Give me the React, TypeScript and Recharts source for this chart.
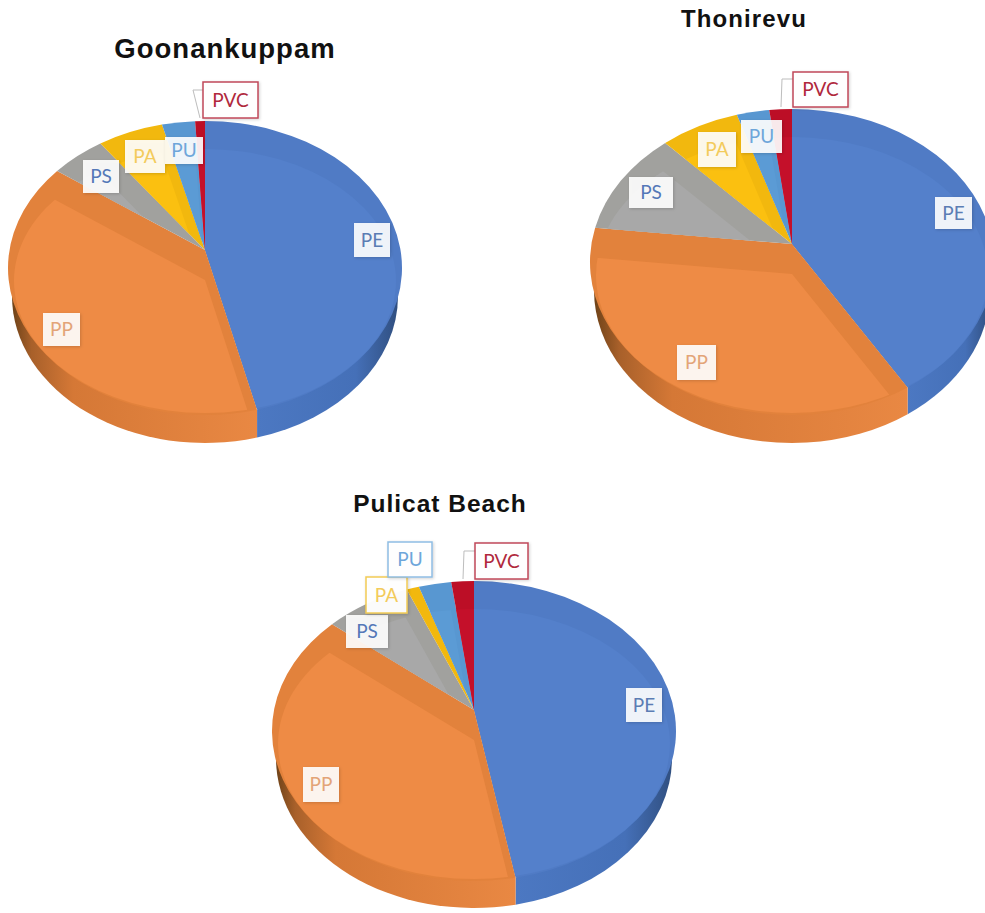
import { Pie, PieChart } from "recharts";

const polymers = ["PE", "PP", "PS", "PA", "PU", "PVC"];

const goonankuppamShares = [45.7, 40.7, 4.6, 5.4, 2.7, 0.8];
const thonirevuShares = [40.3, 38.3, 10.6, 6.4, 2.6, 1.8];
const pulicatShares = [46.7, 40.9, 7.0, 1.0, 2.6, 1.8];

const topColors = ["#5480CB", "#EE8B45", "#A8A8A8", "#FBC010", "#5B9BD5", "#C4102A"];
const bevelColors = ["#507BC5", "#E2823C", "#A1A19E", "#F2B80E", "#5897D1", "#BC0E26"];
const labelTextColors = ["#5B7DB4", "#E3A478", "#5478B8", "#F3CB5C", "#6EA6DA", "#B0283C"];

type Box = { x: number; y: number; w: number; h: number; border?: string };

type Site = {
  title: string;
  titleX: number;
  titleY: number;
  titleSize: number;
  titleSpacing: number;
  shares: number[];
  apexX: number;
  apexY: number;
  rx: number;
  ry: number;
  rimY: number; // centre of the rim ellipse, lower than the apex because of the perspective
  depth: number;
  boxes: Box[];
  leader: string;
};

const sites: Site[] = [
  {
    title: "Goonankuppam",
    titleX: 225,
    titleY: 58,
    titleSize: 27.5,
    titleSpacing: 1,
    shares: goonankuppamShares,
    apexX: 205,
    apexY: 250,
    rx: 197,
    ry: 147,
    rimY: 268,
    depth: 28,
    boxes: [
      { x: 354, y: 223, w: 36, h: 34 },
      { x: 43, y: 313, w: 37, h: 33 },
      { x: 83, y: 160, w: 36, h: 33 },
      { x: 125, y: 140, w: 40, h: 33 },
      { x: 165, y: 137, w: 38, h: 27 },
      { x: 203, y: 82, w: 55, h: 36, border: "#C0485A" },
    ],
    leader: "203,90 193,90 200,118",
  },
  {
    title: "Thonirevu",
    titleX: 744,
    titleY: 27,
    titleSize: 24,
    titleSpacing: 1.1,
    shares: thonirevuShares,
    apexX: 792,
    apexY: 244,
    rx: 202,
    ry: 153,
    rimY: 262,
    depth: 28,
    boxes: [
      { x: 935, y: 197, w: 37, h: 32 },
      { x: 677, y: 345, w: 39, h: 35 },
      { x: 629, y: 177, w: 44, h: 31 },
      { x: 698, y: 132, w: 38, h: 35 },
      { x: 741, y: 120, w: 41, h: 33 },
      { x: 793, y: 72, w: 55, h: 35, border: "#C0485A" },
    ],
    leader: "793,79 782,79 781,107",
  },
  {
    title: "Pulicat Beach",
    titleX: 440,
    titleY: 512,
    titleSize: 24.5,
    titleSpacing: 1,
    shares: pulicatShares,
    apexX: 474,
    apexY: 710,
    rx: 202,
    ry: 150,
    rimY: 731,
    depth: 27,
    boxes: [
      { x: 626, y: 688, w: 36, h: 34 },
      { x: 303, y: 767, w: 36, h: 35 },
      { x: 346, y: 615, w: 42, h: 33 },
      { x: 366, y: 577, w: 41, h: 36, border: "#F2CB55" },
      { x: 388, y: 542, w: 44, h: 35, border: "#8FBDE3" },
      { x: 475, y: 543, w: 53, h: 36, border: "#C0485A" },
    ],
    leader: "475,551 464,551 463,579",
  },
];

const toRim = (site: Site, angle: number) => {
  const rad = (angle * Math.PI) / 180;
  return {
    x: site.apexX + site.rx * Math.cos(rad),
    y: site.rimY - site.ry * Math.sin(rad),
  };
};

const wedgePath = (site: Site, start: number, end: number) => {
  const a = toRim(site, start);
  const b = toRim(site, end);
  const large = start - end > 180 ? 1 : 0;
  return `M${site.apexX},${site.apexY} L${a.x},${a.y} A${site.rx},${site.ry} 0 ${large} 1 ${b.x},${b.y} Z`;
};

// the base of the pie is a slightly narrower ellipse, so the wall tapers out towards the sides
const wallPath = (site: Site, start: number, end: number) => {
  const from = Math.min(start, 0);
  const to = Math.max(end, -180);
  if (from <= to) return null;
  const baseRx = site.rx - 4;
  const baseY = site.rimY + site.depth;
  const onBase = (angle: number) => {
    const rim = toRim(site, angle);
    const ratio = Math.max(-1, Math.min(1, (rim.x - site.apexX) / baseRx));
    return { x: rim.x, y: baseY + site.ry * Math.sqrt(1 - ratio * ratio) };
  };
  const a = from === 0 ? { x: site.apexX + baseRx, y: baseY } : onBase(from);
  const b = to === -180 ? { x: site.apexX - baseRx, y: baseY } : onBase(to);
  const rimA = from === 0 ? a : toRim(site, from);
  const rimB = to === -180 ? b : toRim(site, to);
  return `M${rimA.x},${rimA.y} L${a.x},${a.y} A${baseRx},${site.ry} 0 0 1 ${b.x},${b.y} L${rimB.x},${rimB.y} Z`;
};

const TiltedSlice = ({ site, siteIndex, index, startAngle, endAngle }: any) => {
  const sliceId = `slice-${siteIndex}-${index}`;
  const wall = wallPath(site, startAngle, endAngle);
  const bevel = 30;
  const mid = (startAngle + endAngle) / 2;
  const far = [toRim(site, startAngle), toRim(site, mid), toRim(site, endAngle)].map((p) => ({
    x: site.apexX + (p.x - site.apexX) * 3,
    y: site.apexY + bevel + (p.y - site.apexY) * 3,
  }));
  const inner = `M${site.apexX},${site.apexY + bevel} ${far.map((p) => `L${p.x},${p.y}`).join(" ")} Z`;
  return (
    <g>
      <defs>
        <clipPath id={`${sliceId}-top`}>
          <path d={wedgePath(site, startAngle, endAngle)} />
        </clipPath>
        <clipPath id={`${sliceId}-inset`}>
          <ellipse cx={site.apexX} cy={site.rimY + 13} rx={site.rx - 6} ry={site.ry - 15} />
        </clipPath>
      </defs>
      {wall && <path d={wall} fill={`url(#wall-${index === 0 ? "blue" : "orange"})`} />}
      <path d={wedgePath(site, startAngle, endAngle)} fill={bevelColors[index]} />
      <g clipPath={`url(#${sliceId}-top)`}>
        <path d={inner} fill={topColors[index]} clipPath={`url(#${sliceId}-inset)`} />
      </g>
    </g>
  );
};

const PolymerTag = ({ site, index }: any) => {
  const box: Box = site.boxes[index];
  const isPvc = polymers[index] === "PVC";
  return (
    <g>
      {isPvc && <polyline points={site.leader} fill="none" stroke="#BDBDBD" strokeWidth={1} />}
      <rect
        x={box.x}
        y={box.y}
        width={box.w}
        height={box.h}
        fill="#fff"
        fillOpacity={box.border ? 0.96 : 0.9}
        stroke={box.border ?? "none"}
        strokeWidth={1.5}
        filter="url(#tag-shadow)"
      />
      <text
        x={box.x + box.w / 2}
        y={box.y + box.h / 2 + 6.5}
        textAnchor="middle"
        fontFamily="Lato, 'Open Sans', sans-serif"
        fontSize={19}
        fill={labelTextColors[index]}
      >
        {polymers[index]}
      </text>
    </g>
  );
};

export default function App() {
  return (
    <div style={{ position: "absolute", left: 0, top: 0, width: 985, height: 913, background: "#fff", overflow: "hidden" }}>
      <PieChart width={985} height={913} margin={{ top: 0, right: 0, bottom: 0, left: 0 }}>
        <defs>
          <linearGradient id="wall-orange" gradientUnits="objectBoundingBox" x1="0" y1="0" x2="1" y2="0">
            <stop offset="0" stopColor="#6E4218" />
            <stop offset="0.08" stopColor="#A8602A" />
            <stop offset="0.25" stopColor="#D57836" />
            <stop offset="1" stopColor="#E98843" />
          </linearGradient>
          <linearGradient id="wall-blue" gradientUnits="objectBoundingBox" x1="0" y1="0" x2="1" y2="0">
            <stop offset="0" stopColor="#4C78C2" />
            <stop offset="0.7" stopColor="#4570B8" />
            <stop offset="1" stopColor="#304F80" />
          </linearGradient>
          <filter id="tag-shadow" x="-20%" y="-20%" width="140%" height="140%">
            <feDropShadow dx="1" dy="1" stdDeviation="1.5" floodColor="#000" floodOpacity="0.18" />
          </filter>
        </defs>
        {sites.map((site, siteIndex) => (
          <Pie
            key={site.title}
            data={polymers.map((name, i) => ({ name, value: site.shares[i] }))}
            dataKey="value"
            nameKey="name"
            cx={site.apexX}
            cy={site.apexY}
            outerRadius={site.rx}
            startAngle={90}
            endAngle={-270}
            stroke="none"
            isAnimationActive={false}
            labelLine={false}
            shape={(props: any) => <TiltedSlice {...props} site={site} siteIndex={siteIndex} />}
            label={(props: any) => <PolymerTag site={site} index={props.index} />}
          />
        ))}
        {sites.map((site) => (
          <text
            key={site.title}
            x={site.titleX}
            y={site.titleY}
            textAnchor="middle"
            fontFamily="'Liberation Sans', Arial, sans-serif"
            fontWeight={700}
            fontSize={site.titleSize}
            letterSpacing={site.titleSpacing}
            fill="#111"
          >
            {site.title}
          </text>
        ))}
      </PieChart>
    </div>
  );
}
